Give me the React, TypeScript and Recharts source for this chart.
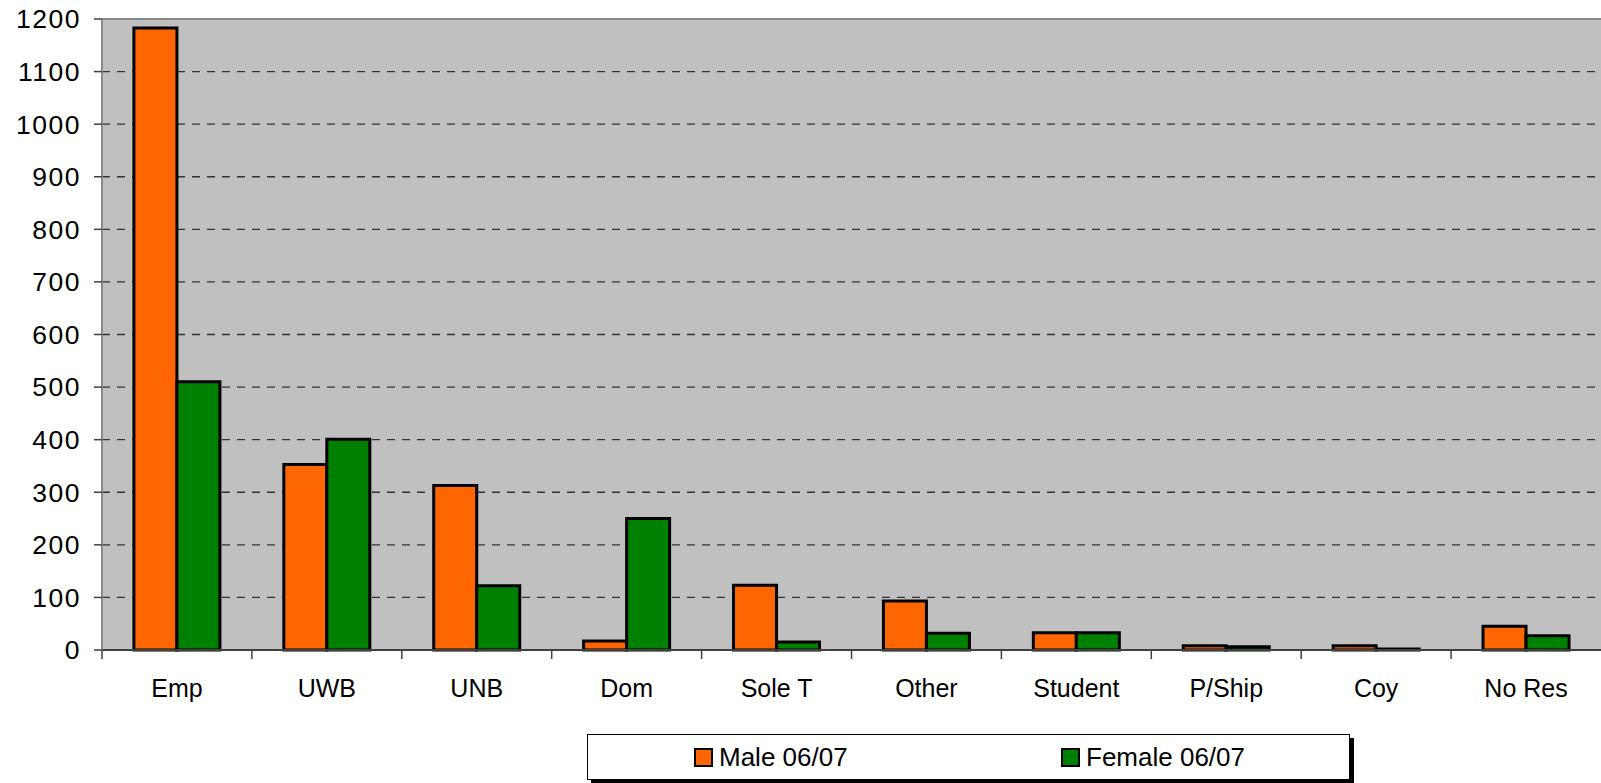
import React from 'react';
import { BarChart, Bar, XAxis, YAxis, CartesianGrid, ReferenceLine } from 'recharts';

const categories = ['Emp', 'UWB', 'UNB', 'Dom', 'Sole T', 'Other', 'Student', 'P/Ship', 'Coy', 'No Res'];
const maleValues = [1183, 353, 313, 17, 123, 93, 33, 8, 8, 45];
const femaleValues = [510, 401, 122, 250, 15, 32, 33, 6, 2, 27];
const yTicks = [0, 100, 200, 300, 400, 500, 600, 700, 800, 900, 1000, 1100, 1200];

const series = [
  { key: 'male', name: 'Male 06/07', color: '#FF6600' },
  { key: 'female', name: 'Female 06/07', color: '#008000' },
];

const data = categories.map((name, i) => ({
  name,
  male: maleValues[i],
  female: femaleValues[i],
}));

const FONT = '"Liberation Sans", Arial, sans-serif';
const X_TICK = 9;
const X_MARGIN = 20;

const CategoryTick = (props: any) => {
  const { x, y, payload } = props;
  const half = payload && payload.offset != null ? payload.offset : 75;
  const axisY = y - X_TICK - X_MARGIN;
  return (
    <g>
      <line x1={x - half} x2={x - half} y1={axisY} y2={axisY + X_TICK} stroke="#404040" strokeWidth={1.5} />
      <text x={x} y={y} dy="0.71em" textAnchor="middle" fill="#000" fontSize={25} fontFamily={FONT}>
        {payload.value}
      </text>
    </g>
  );
};

const App: React.FC = () => {
  return (
    <div style={{ position: 'fixed', left: 0, top: 0, width: 1601, height: 783, background: '#fff', fontFamily: FONT }}>
      <BarChart
        width={1601}
        height={783}
        data={data}
        margin={{ top: 19, right: 0, left: 0, bottom: 73 }}
        barCategoryGap="21.3%"
        barGap={0}
      >
        <CartesianGrid vertical={false} fill="#C0C0C0" stroke="#333" strokeWidth={1.3} strokeDasharray="8 7" />
        <ReferenceLine y={1200} stroke="#8a8a8a" strokeWidth={2} />
        <XAxis
          dataKey="name"
          height={60}
          tickSize={X_TICK}
          tickMargin={X_MARGIN}
          tickLine={false}
          axisLine={{ stroke: '#404040', strokeWidth: 2 }}
          tick={<CategoryTick />}
          interval={0}
        />
        <YAxis
          width={102}
          domain={[0, 1200]}
          ticks={yTicks}
          interval={0}
          tickSize={8}
          tickMargin={13}
          axisLine={{ stroke: '#8a8a8a', strokeWidth: 2 }}
          tickLine={{ stroke: '#404040', strokeWidth: 1.5 }}
          tick={{ fill: '#000', fontSize: 26.5, fontFamily: FONT, letterSpacing: 1.5 }}
        />
        {series.map((s) => (
          <Bar
            key={s.key}
            dataKey={s.key}
            name={s.name}
            fill={s.color}
            stroke="#000"
            strokeWidth={3}
            isAnimationActive={false}
          />
        ))}
      </BarChart>
      <div
        style={{
          position: 'absolute',
          left: 587,
          top: 734,
          width: 761,
          height: 44,
          border: '1px solid #000',
          background: '#fff',
          boxShadow: '4px 4px 0 #000',
        }}
      >
        {series.map((s, i) => (
          <div
            key={s.key}
            style={{
              position: 'absolute',
              left: 106 + i * 367,
              top: 0,
              height: 44,
              display: 'flex',
              alignItems: 'center',
              fontSize: 26,
              color: '#000',
              whiteSpace: 'nowrap',
            }}
          >
            <span
              style={{
                display: 'inline-block',
                width: 15,
                height: 15,
                background: s.color,
                border: '2px solid #000',
                marginRight: 6,
              }}
            />
            {s.name}
          </div>
        ))}
      </div>
    </div>
  );
};

export default App;
